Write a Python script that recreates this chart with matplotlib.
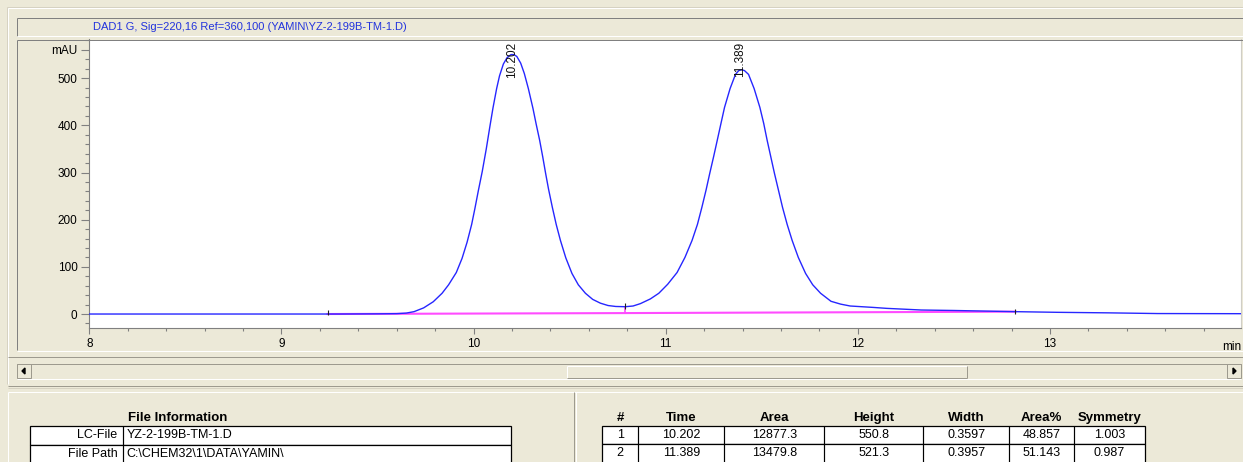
import matplotlib
matplotlib.use("Agg")
import matplotlib.pyplot as plt
from matplotlib.lines import Line2D
from matplotlib.patches import Rectangle, Polygon
from matplotlib.ticker import FixedLocator, MultipleLocator
from matplotlib import font_manager

# ---------------- data ----------------
signal_title = "DAD1 G, Sig=220,16 Ref=360,100 (YAMIN\\YZ-2-199B-TM-1.D)"

time_min = [8.00, 8.50, 9.00, 9.30, 9.50, 9.60, 9.65, 9.69, 9.74, 9.79, 9.836,
            9.87, 9.91, 9.94, 9.966, 9.99, 10.007, 10.025, 10.045, 10.066,
            10.085, 10.101, 10.12, 10.135, 10.155, 10.175, 10.195, 10.21,
            10.225, 10.245, 10.264, 10.285, 10.309, 10.325, 10.344, 10.36,
            10.375, 10.39, 10.41, 10.43, 10.452, 10.48, 10.512, 10.545,
            10.582, 10.62, 10.66, 10.70, 10.74, 10.79, 10.83, 10.868, 10.92,
            10.964, 11.01, 11.059, 11.10, 11.137, 11.165, 11.188, 11.21,
            11.229, 11.25, 11.268, 11.288, 11.306, 11.335, 11.363, 11.38,
            11.395, 11.41, 11.431, 11.46, 11.49, 11.51, 11.528, 11.547,
            11.566, 11.587, 11.608, 11.632, 11.658, 11.69, 11.728, 11.765,
            11.806, 11.86, 11.91, 11.96, 12.08, 12.15, 12.33, 12.50, 12.64,
            12.82, 13.04, 13.30, 13.56, 14.00]
absorbance_mau = [0.0, 0.0, 0.0, 0.0, 0.4, 0.8, 2.0, 5.0, 13.0, 26.0, 44.0,
                  62.0, 88.0, 118.0, 152.0, 190.0, 224.0, 262.0, 302.0, 350.0,
                  398.0, 437.0, 478.0, 505.0, 530.0, 544.0, 550.0, 550.0,
                  546.0, 532.0, 510.0, 478.0, 436.0, 404.0, 368.0, 333.0,
                  298.0, 265.0, 226.0, 190.0, 156.0, 119.0, 86.0, 62.0,
                  44.0, 31.0, 23.0, 18.0, 16.0, 15.5, 17.0, 22.0, 32.0,
                  44.0, 63.0, 88.0, 120.0, 156.0, 190.0, 226.0, 263.0,
                  298.0, 335.0, 368.0, 405.0, 438.0, 478.0, 508.0, 516.0,
                  518.0, 516.0, 508.0, 478.0, 438.0, 404.0, 368.0, 333.0,
                  298.0, 262.0, 226.0, 190.0, 156.0, 120.0, 86.0, 62.0,
                  44.0, 27.0, 21.0, 17.0, 14.0, 12.0, 8.5, 7.5, 6.4,
                  5.0, 3.6, 2.5, 1.0, 0.7]

baseline_time = [9.24, 10.79, 12.82]
baseline_mau = [0.0, 2.0, 5.0]
event_times = [9.24, 10.79, 12.82]
event_mau = [3.0, 17.0, 5.0]
drop_time = [10.79]
drop_mau_low = [2.0]
drop_mau_high = [15.5]

peak_times = [10.202, 11.389]
peak_labels = ["10.202", "11.389"]

x_ticks = [8, 9, 10, 11, 12, 13]
y_ticks = [0, 100, 200, 300, 400, 500]
y_unit_tick = 560

table_headers = ["#", "Time", "Area", "Height", "Width", "Area%", "Symmetry"]
peak_numbers = ["1", "2"]
peak_time_txt = ["10.202", "11.389"]
peak_areas = ["12877.3", "13479.8"]
peak_heights = ["550.8", "521.3"]
peak_widths = ["0.3597", "0.3957"]
area_pct = ["48.857", "51.143"]
symmetry = ["1.003", "0.987"]

file_info_title = "File Information"
file_info_labels = ["LC-File", "File Path"]
file_info_values = ["YZ-2-199B-TM-1.D", "C:\\CHEM32\\1\\DATA\\YAMIN\\"]

# ---------------- styling ----------------
names = {f.name for f in font_manager.fontManager.ttflist}
base_font = "Liberation Sans" if "Liberation Sans" in names else "DejaVu Sans"
narrow_font = "Liberation Sans Narrow" if "Liberation Sans Narrow" in names else base_font
plt.rcParams["font.family"] = [base_font, "DejaVu Sans"]

W, H = 1243, 462
BG = "#ECE9D8"
GRAY = "#9D9A8E"
DARK = "#808080"

fig = plt.figure(figsize=(W / 100, H / 100), dpi=100, facecolor=BG)


def fx(px):
    return px / W


def fy(py):
    return 1 - py / H


def hline(y, x0, x1, color, lw=1.0):
    fig.add_artist(Line2D([fx(x0), fx(x1)], [fy(y), fy(y)], transform=fig.transFigure,
                          color=color, lw=lw * 0.72, solid_capstyle="butt"))


def vline(x, y0, y1, color, lw=1.0):
    fig.add_artist(Line2D([fx(x), fx(x)], [fy(y0), fy(y1)], transform=fig.transFigure,
                          color=color, lw=lw * 0.72, solid_capstyle="butt"))


# outer frame
hline(6.5, 7, W, "#D6D2C2")
hline(7.5, 8, W, "white")
vline(7, 6.5, 384, "#D6D2C2")
vline(8, 7.5, 384, "white")
# title bar
hline(17.5, 17, W, DARK)
vline(17, 17.5, 35.5, DARK)
hline(35.5, 17, W, "white")
fig.text(fx(93), fy(27), signal_title, color="#2233DD", fontsize=8, ha="left", va="center")
# chart frame
hline(39.5, 17, W, DARK)
vline(17, 39.5, 350, DARK)
hline(350.5, 17, W, "white")
hline(357, 8, W, GRAY)
# scrollbar
hline(364, 17, W - 2, GRAY)
hline(379, 17, W - 2, "white")
fig.add_artist(Rectangle((fx(17), fy(378)), fx(14), 14 / H, transform=fig.transFigure,
                         facecolor=BG, edgecolor=GRAY, lw=0.72))
fig.add_artist(Rectangle((fx(1227), fy(378)), fx(14), 14 / H, transform=fig.transFigure,
                         facecolor=BG, edgecolor=GRAY, lw=0.72))
fig.add_artist(Polygon([[fx(22), fy(371)], [fx(25), fy(368)], [fx(25), fy(374)]],
                       closed=True, transform=fig.transFigure, color="black"))
fig.add_artist(Polygon([[fx(1236), fy(371)], [fx(1233), fy(368)], [fx(1233), fy(374)]],
                       closed=True, transform=fig.transFigure, color="black"))
hline(365.5, 567, 967, "white")
vline(567, 365.5, 378, "white")
hline(378, 567, 967, GRAY)
vline(967, 365.5, 378, GRAY)
hline(386, 8, W, GRAY)
hline(388, 8, W, "#D6D2C2")
# bottom panel
hline(392, 8, W, "white")
vline(8, 392, H, "white")
vline(574, 392, H, GRAY)
vline(576, 392, H, "white")

# ---------------- chromatogram axes ----------------
ax_l, ax_r, ax_t, ax_b = 89.3, 1241, 39.5, 327.7
ax = fig.add_axes([fx(ax_l), fy(ax_b), (ax_r - ax_l) / W, (ax_b - ax_t) / H])
ax.set_facecolor("white")
ax.set_xlim(8.0, 13.994)
ax.set_ylim(-29.0, 582.0)

ax.plot(time_min, absorbance_mau, color="#2626FF", lw=1.0, zorder=3)
ax.plot(baseline_time, baseline_mau, color="#FF4CFF", lw=1.5, zorder=2)
ax.vlines(drop_time, drop_mau_low, drop_mau_high, color="#FF4CFF", lw=1.2, zorder=2)
for t, m in zip(event_times, event_mau):
    ax.vlines(t, m - 6, m + 6, color="#202020", lw=0.8, zorder=4)
for t, lab in zip(peak_times, peak_labels):
    ax.text(t, 578, lab, rotation=90, ha="center", va="top", fontsize=8.5, color="#101010")

for side in ["left", "bottom"]:
    ax.spines[side].set_color(DARK)
    ax.spines[side].set_linewidth(0.8)
ax.spines["top"].set_visible(False)
ax.spines["right"].set_color("#D0CEC6")

ax.xaxis.set_major_locator(FixedLocator(x_ticks))
ax.xaxis.set_minor_locator(MultipleLocator(0.2))
ax.yaxis.set_major_locator(FixedLocator(y_ticks + [y_unit_tick]))
ax.yaxis.set_minor_locator(MultipleLocator(20))
ax.set_yticklabels([str(v) for v in y_ticks] + ["mAU"])
ax.tick_params(axis="x", which="major", length=4.3, width=0.8, color=DARK, pad=3,
               labelsize=8.5, labelcolor="black")
ax.tick_params(axis="x", which="minor", length=2.2, width=0.8, color=DARK)
ax.tick_params(axis="y", which="major", length=6, width=0.8, color=DARK, pad=2.5,
               labelsize=8.5, labelcolor="black")
ax.tick_params(axis="y", which="minor", length=3, width=0.8, color=DARK)
ax.text(1.0, -0.045, "min", transform=ax.transAxes, ha="right", va="top", fontsize=8.5)

# ---------------- file information table ----------------
fig.text(fx(178), fy(421), file_info_title, fontsize=9.5, fontweight="bold",
         ha="center", va="baseline")
fi_left, fi_div, fi_right = 30, 122.5, 511
row_top = [426, 444.5]
for i, (lab, val) in enumerate(zip(file_info_labels, file_info_values)):
    y0 = row_top[i]
    yc = y0 + 9.5
    fig.add_artist(Rectangle((fx(fi_left), fy(y0 + 19)), (fi_right - fi_left) / W, 19 / H,
                             transform=fig.transFigure, facecolor="white",
                             edgecolor="black", lw=0.9))
    vline(fi_div, y0, y0 + 19, "black", 1.2)
    fig.text(fx(fi_div - 5), fy(yc), lab, fontsize=9, ha="right", va="center",
             family=[narrow_font, "DejaVu Sans"])
    fig.text(fx(fi_div + 4), fy(yc), val, fontsize=9, ha="left", va="center",
             family=[narrow_font, "DejaVu Sans"])

# ---------------- peak results table ----------------
col_edges = [602.3, 638.3, 724.3, 824.3, 923.3, 1009.3, 1074, 1145]
for j, head in enumerate(table_headers):
    xc = (col_edges[j] + col_edges[j + 1]) / 2
    fig.text(fx(xc), fy(421), head, fontsize=9.5, fontweight="bold",
             ha="center", va="baseline")
rows = list(zip(peak_numbers, peak_time_txt, peak_areas, peak_heights,
                peak_widths, area_pct, symmetry))
rt_top = [425.7, 444.3]
for i, row in enumerate(rows):
    y0 = rt_top[i]
    fig.add_artist(Rectangle((fx(col_edges[0]), fy(y0 + 18.6)),
                             (col_edges[-1] - col_edges[0]) / W, 18.6 / H,
                             transform=fig.transFigure, facecolor="white",
                             edgecolor="black", lw=0.9))
    for xe in col_edges[1:-1]:
        vline(xe, y0, y0 + 18.6, "black", 1.2)
    for j, val in enumerate(row):
        xc = (col_edges[j] + col_edges[j + 1]) / 2
        fig.text(fx(xc), fy(y0 + 9.2), val, fontsize=9, ha="center", va="center",
                 family=[narrow_font, "DejaVu Sans"])

fig.savefig("out.png", dpi=100, facecolor=BG)
